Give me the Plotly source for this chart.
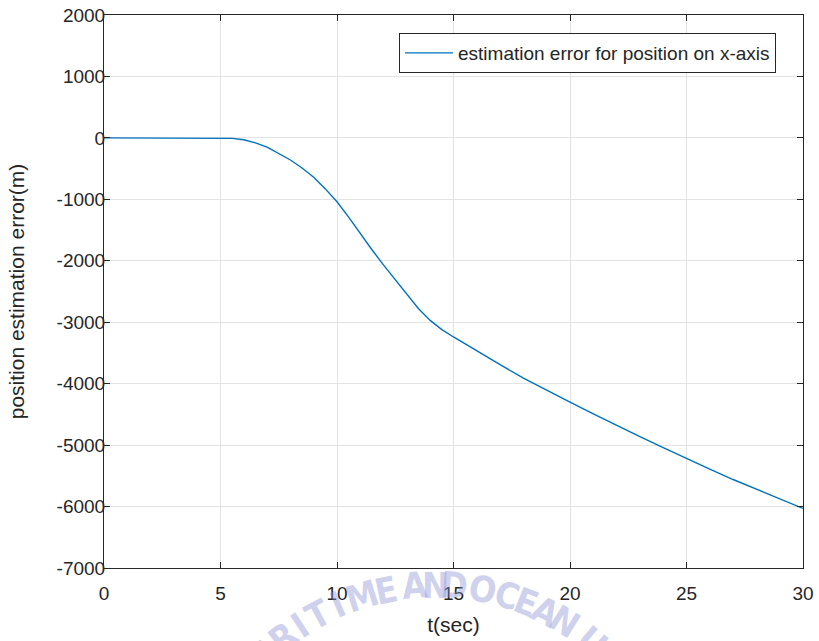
import plotly.graph_objects as go
import math

# ---- data ----
t_sec = [0, 1, 2, 3, 4, 5, 5.5, 6, 6.5, 7, 7.5, 8, 8.5, 9, 9.5, 10, 10.5, 11, 11.5, 12,
         12.5, 13, 13.5, 14, 14.5, 15, 16, 17, 18, 19, 20, 21, 22, 23, 24, 25, 26, 27,
         28, 29, 30]
pos_err = [0, 0, 0, 0, 0, 0, -8, -30, -80, -150, -250, -360, -490, -640, -830, -1040,
           -1290, -1560, -1820, -2070, -2310, -2550, -2780, -2970, -3120, -3240, -3470,
           -3690, -3910, -4110, -4300, -4490, -4680, -4860, -5040, -5220, -5390, -5560,
           -5720, -5880, -6030]
x_ticks = [0, 5, 10, 15, 20, 25, 30]
y_ticks = [2000, 1000, 0, -1000, -2000, -3000, -4000, -5000, -6000, -7000]
series_name = "estimation error for position on x-axis"
x_title = "t(sec)"
y_title = "position estimation error(m)"
watermark = "MARITIME AND OCEAN U"

W, H = 819, 641
L, R, T, B = 104, 16, 15, 73
pw, ph = W - L - R, H - T - B
font_fam = "Liberation Sans, Arial, sans-serif"
axcol = "#262626"

fig = go.Figure()
fig.add_trace(go.Scatter(x=t_sec, y=pos_err, mode="lines", name=series_name,
                         line=dict(color="#0072BD", width=1.4)))

axis_common = dict(showline=True, linecolor=axcol, linewidth=1, mirror="ticks",
                   ticks="inside", ticklen=6, tickcolor=axcol, showgrid=True,
                   gridcolor="#e3e3e3", gridwidth=1, zeroline=False,
                   tickfont=dict(family=font_fam, size=19, color=axcol),
                   automargin=False)
fig.update_xaxes(range=[0, 30], tickvals=x_ticks, ticktext=[str(v) for v in x_ticks],
                 ticklabelstandoff=8,
                 title=dict(text=x_title, font=dict(family=font_fam, size=21, color=axcol),
                            standoff=14), **axis_common)
fig.update_yaxes(range=[-7000, 2000], tickvals=y_ticks, ticktext=[str(v) for v in y_ticks],
                 ticklabelstandoff=-6,
                 title=dict(text=y_title, font=dict(family=font_fam, size=21, color=axcol),
                            standoff=26), **axis_common)

# faint seal watermark letters along an arc
cx, cy, rad = 435, 830, 245
angles = [-48.9, -43.6, -38.3, -33.4, -28.4, -23.2, -17.4, -11.6, None,
          -4.7, 0.0, 4.6, None, 11.3, 17.0, 21.8, 26.7, 31.8, None, 40.0]
anns = []
for ch, ang in zip(watermark, angles):
    if ang is None or ch == " ":
        continue
    a = math.radians(ang)
    px = cx + rad * math.sin(a)
    py = cy - rad * math.cos(a)
    anns.append(dict(x=(px - L) / pw, y=(H - B - py) / ph, xref="paper", yref="paper",
                     text=ch, showarrow=False, textangle=ang,
                     xanchor="center", yanchor="middle",
                     font=dict(family="Liberation Sans Narrow, DejaVu Sans Condensed, sans-serif",
                               size=36, weight=700, color="rgba(140,146,212,0.42)")))

fig.update_layout(
    width=W, height=H, autosize=False,
    margin=dict(l=L, r=R, t=T, b=B, pad=0),
    paper_bgcolor="white", plot_bgcolor="white",
    showlegend=True,
    legend=dict(x=(399 - L) / pw, y=(H - B - 33) / ph, xanchor="left", yanchor="top",
                bgcolor="white", bordercolor=axcol, borderwidth=1,
                font=dict(family=font_fam, size=19, color=axcol),
                itemwidth=48, tracegroupgap=0),
    annotations=anns,
)

fig.write_html("out.html")
